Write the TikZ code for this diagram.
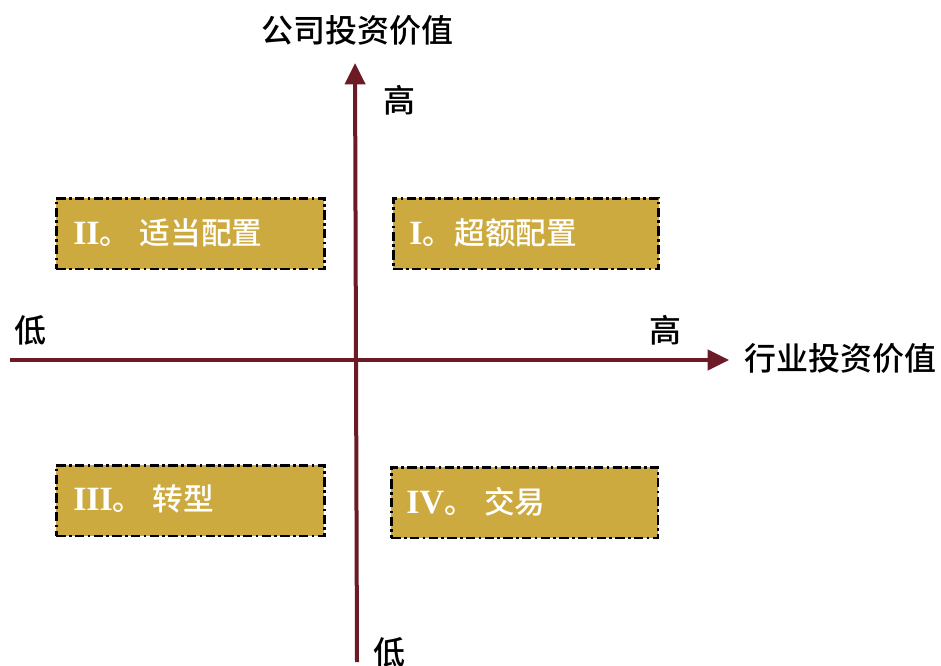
\documentclass[tikz,border=0pt]{standalone}
\usepackage{fontspec}
\setmainfont{Liberation Serif}
\newfontfamily\cjk{Noto Sans CJK SC}
\newfontfamily\cjkb{Noto Sans CJK SC Medium}
\usetikzlibrary{arrows.meta}
\definecolor{axiscol}{HTML}{6B1A26}
\definecolor{boxcol}{HTML}{CCAA40}
\tikzset{
  axis/.style={draw=axiscol,line width=3pt,-{Triangle[length=16pt,width=15pt]}},
  quad/.style={draw=black,fill=boxcol,line width=1.9pt,dash pattern=on 7pt off 2.5pt on 2pt off 2.5pt,minimum width=201pt,minimum height=53pt,anchor=north west,inner sep=0pt},
  qlabel/.style={text=white,font=\fontsize{25.5}{28}\selectfont\bfseries,anchor=west,inner sep=0pt},
  alabel/.style={font=\fontsize{24}{27}\selectfont\cjkb,inner sep=0pt},
}
\newcommand{\qcjk}[1]{{\fontsize{23}{26}\selectfont\cjkb\mdseries #1}}
\begin{document}
\begin{tikzpicture}[x=0.75pt,y=-0.75pt]
\useasboundingbox (0,0) rectangle (941,666);
% boxes
\node[quad] (b2) at (55,197) {};
\node[quad,minimum width=199pt] (b1) at (392,197) {};
\node[quad] (b3) at (55,464) {};
\node[quad,minimum width=200pt] (b4) at (390,466) {};
\node[qlabel] (t2) at (73,233) {II\qcjk{。\hspace{7pt}适当配置}};
\node[qlabel] (t1) at (409,233) {I\qcjk{。\hspace{1pt}超额配置}};
\node[qlabel] (t3) at (73,499) {III\qcjk{。\hspace{7pt}转型}};
\node[qlabel] (t4) at (406,502) {IV\qcjk{。\hspace{7pt}交易}};
% axes
\coordinate (xs) at (10,360);
\coordinate (xe) at (729,360);
\coordinate (ys) at (357,662);
\coordinate (ye) at (355,63);
\draw[axis] (xs) -- (xe);
\draw[axis] (ys) -- (ye);
% labels
\node[alabel] (ty) at (357,30) {公司投资价值};
\node[alabel,anchor=west] (tx) at (744,358) {行业投资价值};
\node[alabel] (hy) at (399,100) {高};
\node[alabel] (ly) at (389,652) {低};
\node[alabel] (lx) at (30,330) {低};
\node[alabel] (hx) at (665,330) {高};
\end{tikzpicture}
\end{document}
